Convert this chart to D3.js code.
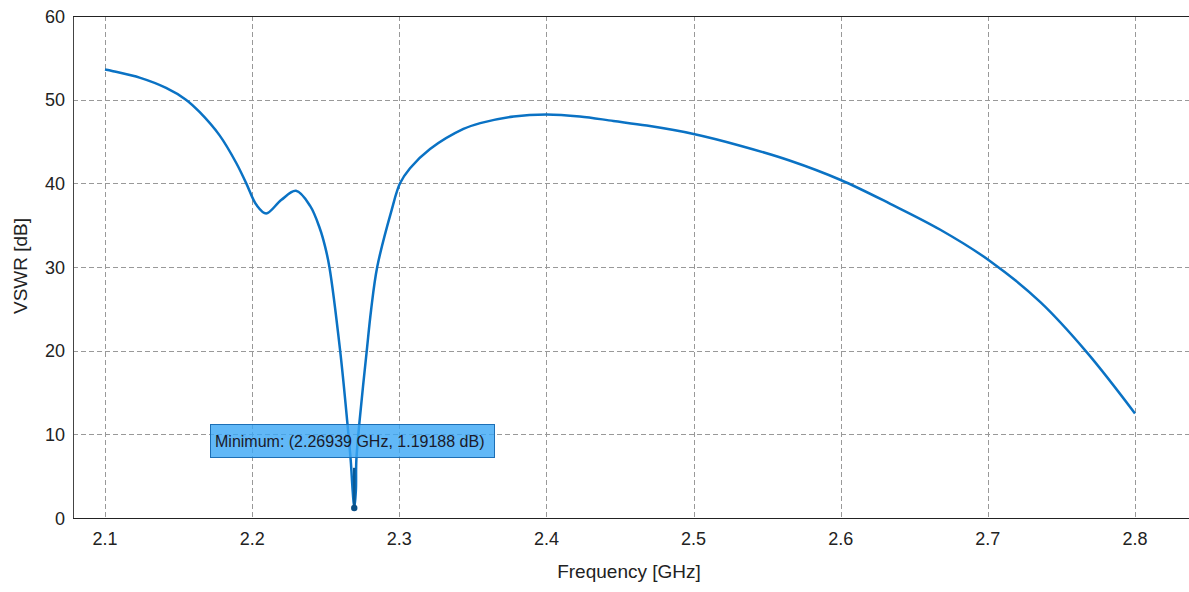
<!doctype html>
<html lang="en">
<head>
<meta charset="utf-8" />
<title>VSWR</title>
<script src="https://d3js.org/d3.v7.min.js"></script>
<style>
  body { margin: 0; background: #fff; }
  text { font-family: "Liberation Sans", Arial, sans-serif; }
</style>
</head>
<body>
<svg></svg>
<script>
// frequency in GHz, VSWR in dB
const freq = [2.1, 2.1055, 2.124, 2.1415, 2.155, 2.1644, 2.178, 2.1893, 2.196, 2.203, 2.2095,
  2.2197, 2.2298, 2.2394, 2.246, 2.2495, 2.2525, 2.2598, 2.2647, 2.267, 2.2683, 2.26939,
  2.2705, 2.2708, 2.2729, 2.2779, 2.2808, 2.285, 2.2948, 2.3005, 2.3073, 2.3209, 2.3436, 2.355,
  2.3777, 2.4, 2.4227, 2.4455, 2.4682, 2.5, 2.5317, 2.5657, 2.6, 2.6337,
  2.6677, 2.7016, 2.7357, 2.7673, 2.8];
const vswr = [53.6, 53.4, 52.6, 51.4, 50.0, 48.5, 45.7, 42.4, 40.0, 37.4, 36.4,
  38.0, 39.1, 37.3, 34.6, 32.5, 30.0, 20.0, 11.4, 6.85, 3.3, 1.19188,
  3.3, 6.85, 11.4, 20.0, 24.8, 30.0, 36.8, 40.0, 41.8, 44.1, 46.5, 47.2,
  48.0, 48.24, 48.0, 47.45, 46.9, 45.9, 44.5, 42.7, 40.4, 37.55,
  34.45, 30.7, 25.8, 19.8, 12.5];
const xTicks = [2.1, 2.2, 2.3, 2.4, 2.5, 2.6, 2.7, 2.8];
const yTicks = [0, 10, 20, 30, 40, 50, 60];
const minFreq = 2.26939, minVal = 1.19188;

const width = 1189, height = 592;
const m = { left: 73, top: 16, bottom: 518, right: 1189 };

const svg = d3.select("svg").attr("width", width).attr("height", height);

const x = d3.scaleLinear().domain([2.07825, 2.8367]).range([m.left, m.right]);
const y = d3.scaleLinear().domain([0, 60]).range([m.bottom, m.top]);

// grid
const grid = svg.append("g");
grid.selectAll(".gx").data(xTicks).enter().append("line")
  .attr("x1", d => Math.round(x(d)) + 0.5).attr("x2", d => Math.round(x(d)) + 0.5)
  .attr("y1", m.top).attr("y2", m.bottom)
  .attr("stroke", "#999").attr("stroke-dasharray", "5,3");
grid.selectAll(".gy").data(yTicks.slice(1, -1)).enter().append("line")
  .attr("x1", m.left).attr("x2", m.right)
  .attr("y1", d => Math.round(y(d)) + 0.5).attr("y2", d => Math.round(y(d)) + 0.5)
  .attr("stroke", "#999").attr("stroke-dasharray", "5,3");

// frame
svg.append("line").attr("x1", m.left + 0.5).attr("x2", m.left + 0.5).attr("y1", m.top).attr("y2", m.bottom + 1)
  .attr("stroke", "#444");
svg.append("line").attr("x1", m.left).attr("x2", m.right).attr("y1", m.top + 0.5).attr("y2", m.top + 0.5)
  .attr("stroke", "#222");
svg.append("line").attr("x1", m.left).attr("x2", m.right).attr("y1", m.bottom + 0.5).attr("y2", m.bottom + 0.5)
  .attr("stroke", "#222");

// tick labels
svg.append("g").selectAll("text").data(xTicks).enter().append("text")
  .attr("x", d => x(d)).attr("y", 545)
  .attr("text-anchor", "middle").attr("font-size", 18).attr("fill", "#222")
  .text(d => d.toFixed(1));
svg.append("g").selectAll("text").data(yTicks).enter().append("text")
  .attr("x", 65).attr("y", d => y(d) + 6.5)
  .attr("text-anchor", "end").attr("font-size", 18).attr("fill", "#222")
  .text(d => d);

// axis titles
svg.append("text").attr("x", 629).attr("y", 578).attr("text-anchor", "middle")
  .attr("font-size", 19).attr("fill", "#222").text("Frequency [GHz]");
svg.append("text").attr("transform", "translate(27,266) rotate(-90)")
  .attr("text-anchor", "middle").attr("font-size", 19).attr("fill", "#222").text("VSWR [dB]");

// curve
const pts = freq.map((f, i) => [f, vswr[i]]);
const line = d3.line().x(d => x(d[0])).y(d => y(d[1])).curve(d3.curveCatmullRom.alpha(0.5));
svg.append("path").datum(pts).attr("d", line)
  .attr("fill", "none").attr("stroke", "#0a72c4").attr("stroke-width", 2.5);

// minimum marker
svg.append("line").attr("x1", x(minFreq)).attr("x2", x(minFreq))
  .attr("y1", y(minVal)).attr("y2", y(6))
  .attr("stroke", "#0a5a96").attr("stroke-width", 2.5);
svg.append("circle").attr("cx", x(minFreq)).attr("cy", y(minVal)).attr("r", 3.2)
  .attr("fill", "#0a4f86");

const box = svg.append("g");
box.append("rect").attr("x", 210.5).attr("y", 424.5).attr("width", 284).attr("height", 33)
  .attr("fill", "#3aa6f5").attr("fill-opacity", 0.8).attr("stroke", "#1d6fb5");
box.append("text").attr("x", 215).attr("y", 447).attr("font-size", 16).attr("fill", "#1a1a2a")
  .text("Minimum: (" + minFreq + " GHz, " + minVal + " dB)");
</script>
</body>
</html>
